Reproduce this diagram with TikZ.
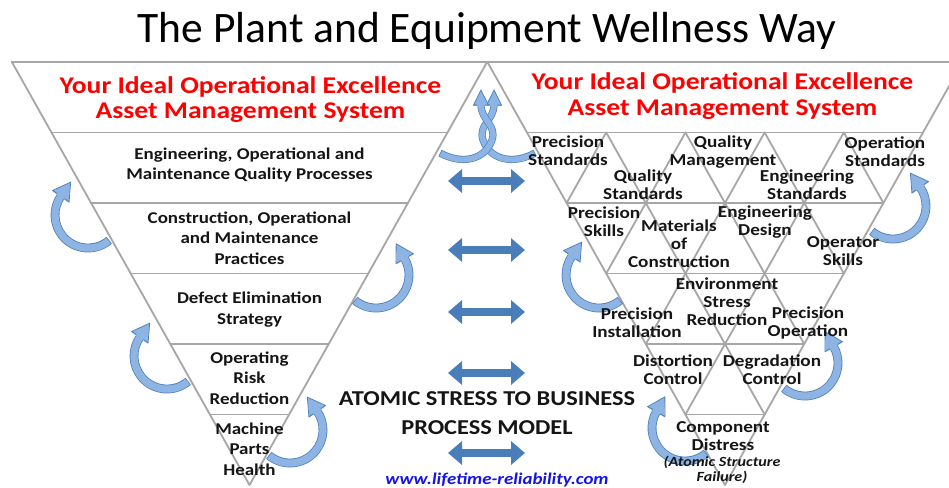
\documentclass[tikz,border=0pt]{standalone}
\usepackage{fontspec}
\setmainfont{Carlito}[BoldFeatures={FakeStretch=1.15},BoldItalicFeatures={FakeStretch=1.15}]
\usetikzlibrary{arrows.meta,decorations.markings,calc}
\definecolor{gridgray}{HTML}{A6A6A6}
\definecolor{arrline}{HTML}{4F81BD}
\definecolor{arrfill}{HTML}{8EB4E3}
\definecolor{midblue}{HTML}{4A7EBB}
\definecolor{titlered}{HTML}{FF0000}
\definecolor{urlblue}{HTML}{1414E6}
\definecolor{txt}{HTML}{151515}
% #1 path, #2 outer width, #3 inner width, #4 half shaft, #5 head half width, #6 head length
\newcommand{\looparrow}[6]{%
  \draw[arrline, line width=#2] #1;
  \draw[arrfill, line width=#3, shorten <=0.8pt] #1;
  \path[decorate, decoration={markings, mark=at position 0.999 with {
      \fill[arrfill] (-0.8pt,#5) -- (#6,0pt) -- (-0.8pt,-#5) -- cycle;
      \draw[arrline, line width=0.8pt, line join=miter] (0pt,#4) -- (0pt,#5) -- (#6,0pt) -- (0pt,-#5) -- (0pt,-#4);}}] #1;
}
\tikzset{
  gridline/.style={draw=gridgray, line width=1.8pt, line cap=round, line join=round},
  redtitle/.style={font=\bfseries\fontsize{24}{25.5}\selectfont, text=titlered, align=center, inner sep=0pt},
  lefttext/.style={font=\bfseries\fontsize{16.5}{20.5}\selectfont, text=txt, align=center, inner sep=0pt},
  righttext/.style={font=\bfseries\fontsize{16.7}{18}\selectfont, text=txt, align=center, inner sep=0pt},
  midtext/.style={font=\bfseries\fontsize{21.2}{29}\selectfont, text=txt, align=center, inner sep=0pt},
  dblarrow/.style={midblue, line width=8pt, {Triangle[width=23pt,length=14pt]}-{Triangle[width=23pt,length=14pt]}}
}
\begin{document}
\begin{tikzpicture}[x=1pt,y=1pt]
\useasboundingbox (0,0) rectangle (949,487);
\fill[white] (0,0) rectangle (949,487);

% ---- frames ----
\draw[gridline] (11.9,425) -- (249.5,2) -- (487.1,425);
\draw[gridline] (11.9,425) -- (962.6,425);
\draw[gridline] (487.4,425) -- (725,2) -- (962.6,425);
\foreach \k in {1,...,5} {
  \draw[gridline] ({249.5-39.6*\k},{2+70.5*\k}) -- ({249.5+39.6*\k},{2+70.5*\k});
  \draw[gridline] ({725-39.6*\k},{2+70.5*\k}) -- ({725+39.6*\k},{2+70.5*\k});
}
\foreach \j in {1,...,4} {
  \draw[gridline] ({725+39.6*\j},{2+70.5*\j}) -- ({725-198+79.2*\j},354.5);
  \draw[gridline] ({725-39.6*\j},{2+70.5*\j}) -- ({725+198-79.2*\j},354.5);
}

% ---- middle double arrows ----
\foreach \n/\yy in {1/306,2/237,3/175,4/114,5/34} {
  \coordinate (ma\n) at (448,\yy);
  \coordinate (mb\n) at (525,\yy);
  \draw[dblarrow] (ma\n) -- (mb\n);
}

% ---- looping arrows ----
\looparrow{($(88,272)+(-50:33pt)$) arc[start angle=-50, end angle=-215, radius=33pt]}{8.8pt}{7.2pt}{4.4pt}{10pt}{17pt}
\looparrow{($(167,131)+(-50:33pt)$) arc[start angle=-50, end angle=-215, radius=33pt]}{8.8pt}{7.2pt}{4.4pt}{10pt}{17pt}
\looparrow{($(376,212)+(-130:33pt)$) arc[start angle=-130, end angle=30, radius=33pt]}{8.8pt}{7.2pt}{4.4pt}{10pt}{17pt}
\looparrow{($(290,57)+(-130:33pt)$) arc[start angle=-130, end angle=35, radius=33pt]}{8.8pt}{7.2pt}{4.4pt}{10pt}{17pt}
\looparrow{($(893,281)+(-130:33pt)$) arc[start angle=-130, end angle=35, radius=33pt]}{8.8pt}{7.2pt}{4.4pt}{10pt}{17pt}
\looparrow{($(599,212)+(-50:33pt)$) arc[start angle=-50, end angle=-215, radius=33pt]}{8.8pt}{7.2pt}{4.4pt}{10pt}{17pt}
\looparrow{($(805,124)+(-130:33pt)$) arc[start angle=-130, end angle=30, radius=33pt]}{8.8pt}{7.2pt}{4.4pt}{10pt}{17pt}
\looparrow{($(685,59)+(-50:33pt)$) arc[start angle=-50, end angle=-210, radius=33pt]}{8.8pt}{7.2pt}{4.4pt}{10pt}{17pt}
% crossing arrows between the two funnels
\looparrow{(535,334) .. controls (513,322) and (490,327) .. (483,347) .. controls (478,362) and (494,367) .. (494,382)}{7.2pt}{5.8pt}{3.6pt}{7.5pt}{15pt}
\looparrow{(440,334) .. controls (462,322) and (485,327) .. (492,347) .. controls (497,362) and (481,367) .. (481,382)}{7.2pt}{5.8pt}{3.6pt}{7.5pt}{15pt}

% ---- title ----
\node[font=\fontsize{43.5}{50}\selectfont, text=black, inner sep=0pt] (title) at (487,456) {The Plant and Equipment Wellness Way};

% ---- left funnel ----
\node[redtitle] (lred) at (250.5,387.5) {Your Ideal Operational Excellence\\Asset Management System};
\node[lefttext] (l1) at (249.5,322) {Engineering, Operational and\\Maintenance Quality Processes};
\node[lefttext] (l2) at (249.5,249) {Construction, Operational\\and Maintenance\\Practices};
\node[lefttext] (l3) at (249.5,177.5) {Defect Elimination\\Strategy};
\node[lefttext] (l4) at (249.5,109) {Operating\\Risk\\Reduction};
\node[lefttext] (l5) at (249.5,38) {Machine\\Parts\\Health};

% ---- right funnel ----
\node[redtitle] (rred) at (722.5,391) {Your Ideal Operational Excellence\\Asset Management System};
\node[righttext] (r1) at (568,336) {Precision\\Standards};
\node[righttext] (r2) at (643,302) {Quality\\Standards};
\node[righttext] (r3) at (723,335) {Quality\\Management};
\node[righttext] (r4) at (807,302.5) {Engineering\\Standards};
\node[righttext] (r5) at (885,335) {Operation\\Standards};
\node[righttext] (r6) at (604,265) {Precision\\Skills};
\node[righttext] (r7) at (679,243) {Materials\\of\\Construction};
\node[righttext] (r8) at (765,264.5) {Engineering\\Design};
\node[righttext] (r9) at (843,236) {Operator\\Skills};
\node[righttext] (r10) at (727,185.5) {Environment\\Stress\\Reduction};
\node[righttext] (r11) at (637,164) {Precision\\Installation};
\node[righttext] (r12) at (808,164) {Precision\\Operation};
\node[righttext] (r13) at (673,117) {Distortion\\Control};
\node[righttext] (r14) at (772,117) {Degradation\\Control};
\node[righttext] (r15) at (723,51) {Component\\Distress};
\node[font=\bfseries\itshape\fontsize{14}{15}\selectfont, text=txt, align=center, inner sep=0pt] (r16) at (722,17) {(Atomic Structure\\Failure)};

% ---- middle ----
\node[midtext] (model) at (487,73.5) {ATOMIC STRESS TO BUSINESS\\PROCESS MODEL};
\node[font=\bfseries\itshape\fontsize{16.4}{18}\selectfont, text=urlblue, inner sep=0pt] (url) at (497,7) {www.lifetime-reliability.com};
\end{tikzpicture}
\end{document}
